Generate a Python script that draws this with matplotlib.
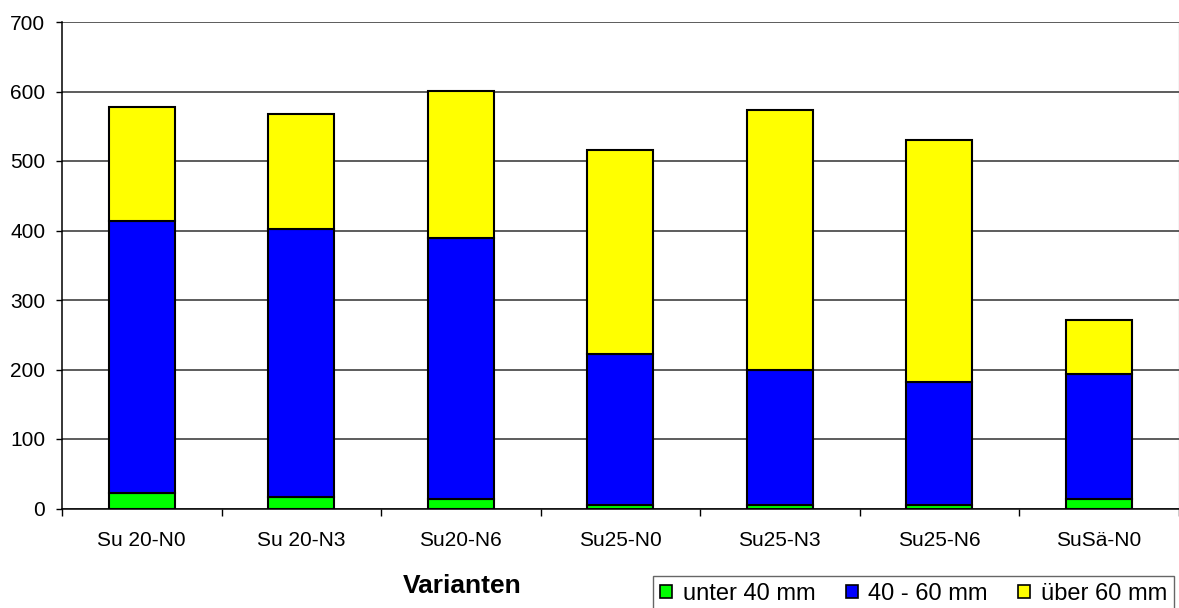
import numpy as np
import matplotlib
matplotlib.use("Agg")
import matplotlib.pyplot as plt
from matplotlib.patches import Patch

plt.rcParams['font.family'] = ['Liberation Sans', 'DejaVu Sans']

# data
varianten = ['Su 20-N0', 'Su 20-N3', 'Su20-N6', 'Su25-N0', 'Su25-N3', 'Su25-N6', 'SuSä-N0']
unter40 = [22, 16, 13, 5, 5, 5, 14]
mm40_60 = [392, 386, 376, 218, 195, 177, 179]
ueber60 = [164, 166, 212, 293, 373, 348, 78]
labels = ['unter 40 mm', '40 - 60 mm', 'über 60 mm']
colors = ['#00FF00', '#0000FF', '#FFFF00']

W, H = 1179, 608
fig = plt.figure(figsize=(W / 100, H / 100), dpi=100)
ax = fig.add_axes([62 / W, 1 - 508.5 / H, (1178.5 - 62) / W, (508.5 - 22) / H])

x = np.arange(len(varianten))
g = np.array(unter40)
b = np.array(mm40_60)
y = np.array(ueber60)
bw = 0.415
ax.bar(x, g, bw, color=colors[0], edgecolor='black', linewidth=1.5, zorder=3)
ax.bar(x, b, bw, bottom=g, color=colors[1], edgecolor='black', linewidth=1.5, zorder=3)
ax.bar(x, y, bw, bottom=g + b, color=colors[2], edgecolor='black', linewidth=1.5, zorder=3)

ax.set_xlim(-0.5, len(varianten) - 0.5)
ax.set_ylim(0, 700)
ax.set_yticks(np.arange(0, 701, 100))
ax.yaxis.grid(True, color='#303030', linewidth=1.1, zorder=0)
ax.set_axisbelow(True)

ax.set_xticks(x)
ax.set_xticklabels(varianten, fontsize=15)
ax.set_xticks(np.arange(-0.5, len(varianten)), minor=True)
ax.tick_params(axis='x', which='major', length=0, pad=16)
ax.tick_params(axis='x', which='minor', length=5, width=1, direction='out', color='black')
ax.tick_params(axis='y', length=4, width=1, pad=8, labelsize=15, color='black')

ax.spines['top'].set_visible(False)
ax.spines['right'].set_color('#404040')
ax.spines['left'].set_linewidth(1.1)
ax.spines['bottom'].set_linewidth(1.1)

fig.text(462 / W, 1 - 586 / H, 'Varianten', fontsize=19, fontweight='bold',
         ha='center', va='center')

handles = [Patch(facecolor=c, edgecolor='black', linewidth=1.2) for c in colors]
leg = fig.legend(handles, labels, loc='upper left', bbox_to_anchor=(653 / W, 1 - 576 / H),
                 ncol=3, fontsize=17, frameon=True, fancybox=False,
                 handlelength=0.5, handleheight=0.5, handletextpad=0.45,
                 columnspacing=1.3, borderpad=0.3, borderaxespad=0)
leg.get_frame().set_edgecolor('#404040')
leg.get_frame().set_linewidth(1)

fig.savefig('out.png', dpi=100)
